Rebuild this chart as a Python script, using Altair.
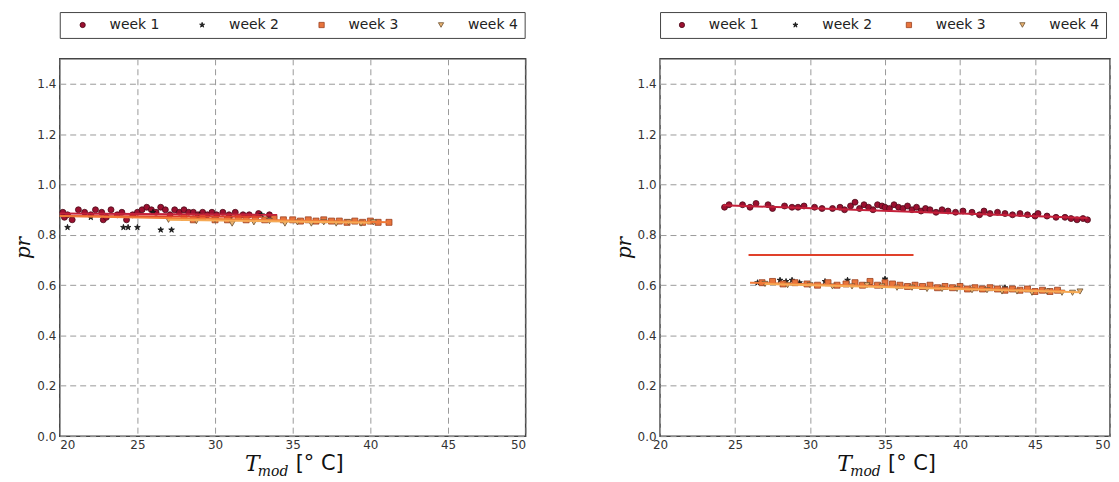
import altair as alt
import pandas as pd

weeks = ["week 1", "week 2", "week 3", "week 4"]
fills = ["#9b1030", "#222222", "#e8743c", "#e9b271"]
strokes = ["#4a0a18", "#111111", "#9a4020", "#6b5030"]
STAR = ("M0,-1L0.224,-0.309L0.951,-0.309L0.363,0.118L0.588,0.809L0,0.382"
        "L-0.588,0.809L-0.363,0.118L-0.951,-0.309L-0.224,-0.309Z")
shapes = ["circle", STAR, "square", "triangle-down"]
line_colors = ["#c4203a", "#e0402a", "#f07a38", "#f6aa55"]

x_ticks = [20, 25, 30, 35, 40, 45, 50]
y_ticks = [0.0, 0.2, 0.4, 0.6, 0.8, 1.0, 1.2, 1.4]

# ---------------- left panel ----------------
L1_x = [20.2, 20.3, 20.5, 20.8, 21.2, 21.6, 22.0, 22.3, 22.7, 22.8, 23.0, 23.3, 23.7, 24.0, 24.3,
        24.7, 25.0, 25.3, 25.6, 25.9, 26.2, 26.5, 26.8, 27.1, 27.4, 27.7, 28.0, 28.3, 28.6, 28.9,
        29.2, 29.5, 29.8, 30.1, 30.5, 30.9, 31.3, 31.8, 32.2, 32.8, 33.5]
L1_y = [0.89, 0.87, 0.88, 0.86, 0.90, 0.89, 0.88, 0.90, 0.89, 0.86, 0.87, 0.90, 0.88, 0.89, 0.86,
        0.88, 0.89, 0.90, 0.91, 0.90, 0.89, 0.91, 0.90, 0.88, 0.90, 0.89, 0.90, 0.89, 0.89, 0.88,
        0.89, 0.88, 0.89, 0.88, 0.89, 0.88, 0.89, 0.88, 0.88, 0.885, 0.88]
L2_x = [20.5, 22.0, 24.1, 24.4, 25.0, 26.0, 26.5, 27.2, 29.0, 31.0, 33.0]
L2_y = [0.83, 0.87, 0.83, 0.83, 0.83, 0.89, 0.82, 0.82, 0.88, 0.87, 0.88]
L3_x = [28.0, 28.6, 29.2, 30.0, 30.8, 31.5, 32.0, 32.6, 33.2, 33.8, 34.4, 35.0, 35.5, 36.0,
        36.5, 37.0, 37.5, 38.0, 38.5, 39.0, 39.5, 40.0, 40.5, 41.2]
L3_y = [0.87, 0.86, 0.87, 0.86, 0.86, 0.87, 0.86, 0.865, 0.86, 0.865, 0.86, 0.86, 0.855, 0.86,
        0.855, 0.86, 0.855, 0.855, 0.85, 0.855, 0.85, 0.855, 0.85, 0.85]
L4_x = [27.0, 28.8, 30.0, 31.1, 32.5, 33.5, 34.5, 35.3, 36.2, 37.0, 37.8, 38.6, 39.4, 40.2]
L4_y = [0.86, 0.855, 0.86, 0.845, 0.85, 0.855, 0.845, 0.85, 0.845, 0.85, 0.845, 0.85, 0.845, 0.85]
L_fit_x1 = [20.0, 20.0, 20.0, 27.0]
L_fit_x2 = [34.0, 33.0, 41.2, 40.0]
L_fit_y1 = [0.885, 0.875, 0.875, 0.86]
L_fit_y2 = [0.880, 0.872, 0.850, 0.848]

# ---------------- right panel ----------------
R1_x = [24.3, 24.6, 25.5, 26.0, 26.4, 27.2, 27.5, 28.3, 28.8, 29.2, 29.6, 30.3, 30.8, 31.5, 32.0,
        32.3, 32.7, 33.0, 33.3, 33.6, 33.9, 34.2, 34.5, 34.8, 35.0, 35.3, 35.6, 35.9, 36.2, 36.5,
        36.8, 37.1, 37.4, 37.7, 38.0, 38.4, 38.8, 39.2, 39.7, 40.2, 40.8, 41.3, 41.6, 42.0, 42.5,
        43.0, 43.5, 44.0, 44.5, 45.0, 45.2, 45.8, 46.4, 47.0, 47.4, 47.8, 48.2, 48.5]
R1_y = [0.91, 0.92, 0.92, 0.91, 0.925, 0.92, 0.905, 0.915, 0.91, 0.91, 0.915, 0.91, 0.905, 0.905,
        0.91, 0.90, 0.915, 0.93, 0.905, 0.92, 0.91, 0.90, 0.92, 0.915, 0.91, 0.905, 0.92, 0.91,
        0.905, 0.915, 0.90, 0.91, 0.895, 0.905, 0.90, 0.89, 0.90, 0.895, 0.89, 0.895, 0.89, 0.88,
        0.895, 0.885, 0.89, 0.885, 0.88, 0.885, 0.88, 0.875, 0.885, 0.875, 0.87, 0.87, 0.865,
        0.86, 0.865, 0.86]
R2_x = [26.5, 28.0, 28.4, 28.8, 29.3, 31.0, 32.5, 34.0, 35.0, 37.0, 40.0, 43.0]
R2_y = [0.61, 0.62, 0.615, 0.62, 0.61, 0.615, 0.62, 0.61, 0.625, 0.60, 0.595, 0.59]
R3_x = [26.8, 27.5, 28.2, 29.0, 29.8, 30.5, 31.2, 31.8, 32.4, 33.0, 33.5, 34.0, 34.5, 35.0,
        35.5, 36.0, 36.5, 37.0, 37.5, 38.0, 38.5, 39.0, 39.5, 40.0, 40.5, 41.0, 41.5, 42.0,
        42.5, 43.0, 43.5, 44.0, 44.5, 45.0, 45.5, 46.0, 46.5]
R3_y = [0.61, 0.615, 0.605, 0.61, 0.605, 0.60, 0.61, 0.60, 0.605, 0.61, 0.60, 0.615, 0.60, 0.61,
        0.605, 0.60, 0.595, 0.60, 0.595, 0.60, 0.59, 0.595, 0.59, 0.595, 0.585, 0.59, 0.585, 0.59,
        0.585, 0.58, 0.585, 0.58, 0.585, 0.575, 0.58, 0.575, 0.58]
R4_x = [27.0, 28.5, 30.0, 31.5, 32.8, 33.8, 34.8, 35.8, 36.8, 37.8, 38.8, 39.8, 40.8, 41.8,
        42.8, 43.8, 44.8, 45.8, 46.8, 47.5, 48.0]
R4_y = [0.605, 0.60, 0.60, 0.595, 0.595, 0.60, 0.595, 0.59, 0.59, 0.585, 0.585, 0.585, 0.58,
        0.58, 0.575, 0.575, 0.57, 0.575, 0.57, 0.57, 0.575]
R_fit_x1 = [24.2, 25.9, 26.0, 27.0]
R_fit_x2 = [48.5, 36.9, 47.0, 48.0]
R_fit_y1 = [0.918, 0.72, 0.61, 0.605]
R_fit_y2 = [0.867, 0.72, 0.577, 0.572]


def points_df(xs, ys):
    rows = []
    for w, xl, yl in zip(weeks, xs, ys):
        for a, b in zip(xl, yl):
            rows.append({"x": a, "y": b, "week": w})
    return pd.DataFrame(rows)


def fits_df(x1, x2, y1, y2):
    rows = []
    for i, w in enumerate(weeks):
        rows.append({"x": x1[i], "y": y1[i], "week": w})
        rows.append({"x": x2[i], "y": y2[i], "week": w})
    return pd.DataFrame(rows)


def panel(pts, fits, width, flush_last, col_pad, sym_off, height=379):
    xaxis = dict(values=x_ticks, title=None, labelPadding=3)
    if flush_last:
        xaxis["labelAlign"] = {"condition": {"test": "datum.value == 50", "value": "right"},
                               "value": "center"}
    xenc = alt.X("x:Q", scale=alt.Scale(domain=[20, 50], nice=False, zero=False),
                 axis=alt.Axis(**xaxis))
    yenc = alt.Y("y:Q", scale=alt.Scale(domain=[0, 1.5], nice=False, zero=True),
                 axis=alt.Axis(values=y_ticks, format=".1f", title="pr", labelPadding=4,
                               titleFont="DejaVu Serif", titleFontStyle="italic",
                               titleFontWeight="normal", titleFontSize=20, titleColor="#111",
                               titlePadding=3))
    leg = alt.Legend(orient="none", legendX=0, legendY=-47, direction="horizontal",
                     title=None, labelFont="DejaVu Sans", labelFontSize=14, labelColor="#222",
                     symbolSize=28, labelOffset=20, columnPadding=col_pad, padding=6,
                     symbolOffset=sym_off,
                     strokeColor="#444", fillColor="white", symbolStrokeWidth=0.8)
    pts_layer = alt.Chart(pts).mark_point(filled=True, size=36, opacity=1, strokeWidth=0.8).encode(
        x=xenc, y=yenc,
        fill=alt.Fill("week:N", scale=alt.Scale(domain=weeks, range=fills), legend=leg),
        stroke=alt.Stroke("week:N", scale=alt.Scale(domain=weeks, range=strokes), legend=leg),
        shape=alt.Shape("week:N", scale=alt.Scale(domain=weeks, range=shapes), legend=leg),
    )
    layers = [pts_layer]
    for w, c in zip(weeks, line_colors):
        layers.append(
            alt.Chart(fits[fits.week == w]).mark_line(strokeWidth=2, color=c).encode(
                x="x:Q", y="y:Q")
        )
    tdf = pd.DataFrame({"t": ["T"]})
    mdf = pd.DataFrame({"t": ["mod"]})
    cdf = pd.DataFrame({"t": ["[° C]"]})
    layers.append(alt.Chart(tdf).mark_text(font="DejaVu Serif", fontStyle="italic", fontSize=22,
                                           align="left", baseline="alphabetic", color="#111").encode(
        text="t:N", x=alt.value(width / 2 - 48), y=alt.value(height + 35)))
    layers.append(alt.Chart(mdf).mark_text(font="DejaVu Serif", fontStyle="italic", fontSize=14,
                                           align="left", baseline="alphabetic", color="#111").encode(
        text="t:N", x=alt.value(width / 2 - 35), y=alt.value(height + 40)))
    layers.append(alt.Chart(cdf).mark_text(font="DejaVu Sans", fontSize=21,
                                           align="left", baseline="alphabetic", color="#111").encode(
        text="t:N", x=alt.value(width / 2 + 3), y=alt.value(height + 34)))
    return alt.layer(*layers).properties(width=width, height=height)


left = panel(points_df([L1_x, L2_x, L3_x, L4_x], [L1_y, L2_y, L3_y, L4_y]),
             fits_df(L_fit_x1, L_fit_x2, L_fit_y1, L_fit_y2), 468, False, 25, 10)
right = panel(points_df([R1_x, R2_x, R3_x, R4_x], [R1_y, R2_y, R3_y, R4_y]),
              fits_df(R_fit_x1, R_fit_x2, R_fit_y1, R_fit_y2), 452, True, 20, 9)

chart = alt.hconcat(left, right, spacing=87).resolve_scale(
    fill="independent", stroke="independent", shape="independent"
).properties(
    padding={"left": 5, "top": 1, "right": 0, "bottom": 0}, background="white"
).configure_view(stroke="#444", strokeWidth=1.5).configure_axis(
    labelFont="DejaVu Sans", labelFontSize=12, labelColor="#333",
    domain=False, ticks=False, grid=True, gridColor="#999", gridDash=[6, 4], gridWidth=1
)

chart.save("out.html", embed_options={"renderer": "svg", "actions": False})
